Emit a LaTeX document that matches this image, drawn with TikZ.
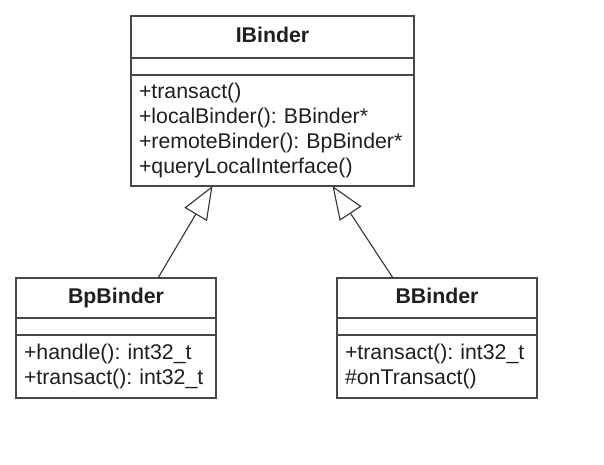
\documentclass[tikz,border=0pt]{standalone}
\usepackage{fontspec}
\setmainfont{Liberation Sans}
\usetikzlibrary{positioning,arrows.meta,calc}
\frenchspacing

\tikzset{
    classname/.style={draw=black!72, line width=1.4pt, outer sep=0pt, inner sep=0pt,
        minimum height=42pt, text height=15.5pt, text depth=4.5pt, text=black!88,
        font=\fontsize{21.3}{25}\selectfont\bfseries},
    classattr/.style={draw=black!72, line width=1.4pt, outer sep=0pt, inner sep=0pt,
        minimum height=17pt},
    classops/.style={draw=black!72, line width=1.4pt, outer sep=0pt, inner xsep=8pt,
        inner ysep=0pt, align=left, text=black!88, font=\fontsize{21.3}{25}\selectfont},
    inherit/.style={draw=black!80, line width=1.1pt,
        -{Triangle[open, length=33pt, width=26pt, fill=white]}}
}

\begin{document}
\begin{tikzpicture}[x=1pt, y=-1pt]
    \useasboundingbox (0,0) rectangle (604,465);

    % IBinder
    \node[classname, minimum width=283pt, anchor=north] (ibname) at (272.5,16) {IBinder};
    \node[classattr, minimum width=283pt, below=0pt of ibname] (ibattr) {};
    \node[classops, text width=267pt, minimum height=111pt, below=0pt of ibattr] (ibops)
        {+transact()\\+localBinder(): BBinder*\\+remoteBinder(): BpBinder*\\+queryLocalInterface()};

    % BpBinder
    \node[classname, minimum width=200pt, minimum height=40pt, anchor=north] (bpname) at (116,278) {BpBinder};
    \node[classattr, minimum width=200pt, below=0pt of bpname] (bpattr) {};
    \node[classops, text width=184pt, minimum height=63pt, below=0pt of bpattr] (bpops)
        {+handle(): int32\_t\\+transact(): int32\_t};

    % BBinder
    \node[classname, minimum width=200pt, minimum height=40pt, anchor=north] (bbname) at (437,278) {BBinder};
    \node[classattr, minimum width=200pt, below=0pt of bbname] (bbattr) {};
    \node[classops, text width=184pt, minimum height=63pt, below=0pt of bbattr] (bbops)
        {+transact(): int32\_t\\\#onTransact()};

    \draw[inherit] ($(bpname.north)+(42,0)$) -- ($(ibops.south)+(-60,0)$);
    \draw[inherit] ($(bbname.north)+(-44,0)$) -- ($(ibops.south)+(60,0)$);
\end{tikzpicture}
\end{document}
